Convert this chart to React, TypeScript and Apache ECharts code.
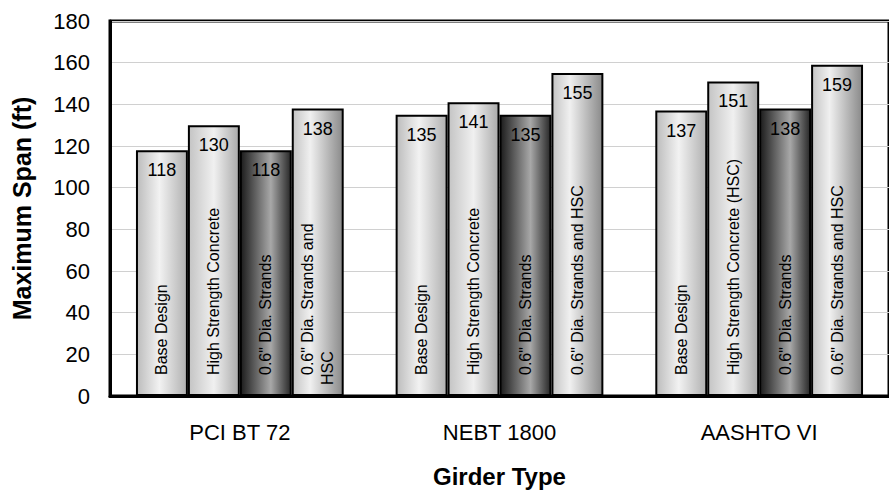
import React, { useEffect, useRef } from "react";
import * as echarts from "echarts";

const categories = ["PCI BT 72", "NEBT 1800", "AASHTO VI"];
const baseDesign = [118, 135, 137];
const highStrength = [130, 141, 151];
const diaStrands = [118, 135, 138];
const diaStrandsHSC = [138, 155, 159];

const baseNames = ["Base Design", "Base Design", "Base Design"];
const hscNames = ["High Strength Concrete", "High Strength Concrete", "High Strength Concrete (HSC)"];
const diaNames = ['0.6" Dia. Strands', '0.6" Dia. Strands', '0.6" Dia. Strands'];
const diaHscNames = ['0.6" Dia. Strands and\nHSC', '0.6" Dia. Strands and HSC', '0.6" Dia. Strands and HSC'];

const FONT = "'Liberation Sans', Arial, sans-serif";

const grad = (stops: [number, string][]) =>
  new echarts.graphic.LinearGradient(0, 0, 1, 0, stops.map(([offset, color]) => ({ offset, color })));

export default function App() {
  const ref = useRef<HTMLDivElement>(null);
  useEffect(() => {
    if (!ref.current) return;
    const chart = echarts.init(ref.current, null, { renderer: "svg" });

    const fills = [
      grad([[0, "#bcbcbc"], [0.45, "#f2f2f2"], [1, "#b0b0b0"]]),
      grad([[0, "#c4c4c4"], [0.5, "#f0f0f0"], [1, "#aaaaaa"]]),
      grad([[0, "#1c1c1c"], [0.6, "#a8a8a8"], [1, "#282828"]]),
      grad([[0, "#c4c4c4"], [0.35, "#f0f0f0"], [1, "#8a8a8a"]]),
    ];
    const values = [baseDesign, highStrength, diaStrands, diaStrandsHSC];
    const names = [baseNames, hscNames, diaNames, diaHscNames];

    const mainSeries = values.map((vals, i) => ({
      type: "bar",
      xAxisIndex: 0,
      yAxisIndex: 0,
      data: vals,
      barGap: "0%",
      barCategoryGap: "20%",
      itemStyle: { color: fills[i], borderColor: "#000", borderWidth: 2 },
      label: {
        show: true,
        position: "insideTop",
        distance: 11,
        fontSize: 18,
        fontFamily: FONT,
        color: "#000",
      },
      z: 2,
    }));

    const overlaySeries = values.map((vals, i) => ({
      type: "bar",
      xAxisIndex: 1,
      yAxisIndex: 0,
      barGap: "0%",
      barCategoryGap: "20%",
      data: vals.map((v, j) => {
        const nm = names[i][j];
        const multi = nm.includes("\n");
        return {
          value: v,
          label: multi
            ? {
                formatter: nm
                  .split("\n")
                  .map((s, k) => (k === 0 ? `{a|${s}}` : `{b|${s}}`))
                  .join("\n"),
                distance: 11,
              }
            : { formatter: nm },
        };
      }),
      itemStyle: { color: "rgba(0,0,0,0)", borderWidth: 0 },
      label: {
        show: true,
        position: "insideBottom",
        rotate: 90,
        align: "left",
        verticalAlign: "middle",
        distance: 21,
        fontSize: 16,
        fontFamily: FONT,
        color: "#000",
        lineHeight: 20,
        rich: {
          a: { fontSize: 16, fontFamily: FONT, color: "#000", padding: [0, 0, 0, 10], lineHeight: 20 },
          b: { fontSize: 16, fontFamily: FONT, color: "#000", lineHeight: 20 },
        },
      },
      z: 3,
      silent: true,
    }));

    chart.setOption({
      animation: false,
      backgroundColor: "#fff",
      grid: {
        left: 110,
        top: 21,
        bottom: 94,
        right: -7,
        show: true,
        borderColor: "#000",
        borderWidth: 3,
        backgroundColor: "transparent",
      },
      xAxis: [
        {
          type: "category",
          data: categories,
          axisLine: { show: true, lineStyle: { color: "#000", width: 3 } },
          axisTick: { show: false },
          axisLabel: { fontSize: 22, fontFamily: FONT, color: "#000", margin: 25 },
          name: "Girder Type",
          nameLocation: "middle",
          nameGap: 68,
          nameTextStyle: { fontSize: 24, fontWeight: "bold", fontFamily: FONT, color: "#000" },
          splitLine: { show: false },
        },
        {
          type: "category",
          data: categories,
          show: false,
        },
      ],
      yAxis: {
        type: "value",
        min: 0,
        max: 180,
        interval: 20,
        axisLine: { show: true, lineStyle: { color: "#000", width: 3 } },
        axisTick: { show: false },
        axisLabel: { fontSize: 22, fontFamily: FONT, color: "#000", margin: 20 },
        splitLine: { show: true, lineStyle: { color: "#d0d0d0", width: 1 } },
        name: "Maximum Span (ft)",
        nameLocation: "middle",
        nameGap: 76,
        nameTextStyle: { fontSize: 25, fontWeight: "bold", fontFamily: FONT, color: "#000" },
      },
      series: [...mainSeries, ...overlaySeries],
    } as any);

    return () => chart.dispose();
  }, []);

  return <div ref={ref} style={{ width: 889, height: 493, position: "absolute", left: 0, top: 0 }} />;
}
